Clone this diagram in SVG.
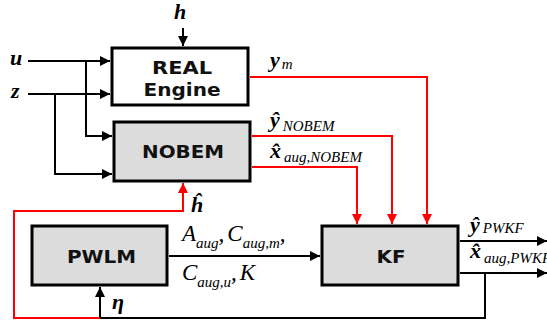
<svg xmlns="http://www.w3.org/2000/svg" width="547" height="325" viewBox="0 0 547 325">
<defs>
<style>
.box{stroke:#000;stroke-width:3}
.white{fill:#fff}
.gray{fill:#dcdcdc}
.bl{font-family:"DejaVu Sans",Verdana,sans-serif;font-weight:bold;font-size:17px;fill:#111}
.k{fill:none;stroke:#000;stroke-width:2}
.r{fill:none;stroke:#f00;stroke-width:2}
.m{font-family:"Liberation Serif","Times New Roman",serif;font-style:italic;font-weight:bold;font-size:22px;fill:#000}
.mn{font-family:"Liberation Serif","Times New Roman",serif;font-style:italic;font-size:23px;fill:#000}
.s{font-family:"Liberation Serif","Times New Roman",serif;font-style:italic;font-size:15px;fill:#000}
</style>
<marker id="ak" viewBox="0 0 10 10" refX="10" refY="5" markerWidth="10" markerHeight="10" markerUnits="userSpaceOnUse" orient="auto"><path d="M0,0 L10,5 L0,10 z" fill="#000"/></marker>
<marker id="ar" viewBox="0 0 10 10" refX="10" refY="5" markerWidth="10" markerHeight="10" markerUnits="userSpaceOnUse" orient="auto"><path d="M0,0 L10,5 L0,10 z" fill="#f00"/></marker>
</defs>
<rect width="547" height="325" fill="#fff"/>

<g id="connectors">
<path class="k" d="M183,28 V46" marker-end="url(#ak)"/>
<path class="k" d="M28,61 H110" marker-end="url(#ak)"/>
<path class="k" d="M86,61 V136 H112" marker-end="url(#ak)"/>
<path class="k" d="M28,94 H110" marker-end="url(#ak)"/>
<path class="k" d="M55,94 V174 H112" marker-end="url(#ak)"/>
<path class="r" d="M250,77 H427 V224" marker-end="url(#ar)"/>
<path class="r" d="M252,136 H392 V224" marker-end="url(#ar)"/>
<path class="r" d="M252,167 H357 V224" marker-end="url(#ar)"/>
<path class="k" d="M169,256 H320" marker-end="url(#ak)"/>
<path class="k" d="M460,241 H547" marker-end="url(#ak)"/>
<path class="k" d="M460,273 H547" marker-end="url(#ak)"/>
<path class="k" d="M485,273 V318 H100"/>
<path class="k" d="M100,318 V287" marker-end="url(#ak)"/>
<path class="r" d="M100,318 H14 V211 H183 V183" marker-end="url(#ar)"/>
</g>

<g id="real-engine">
<rect class="box white" x="112" y="48" width="136" height="57"/>
<text class="bl" x="182" y="74" text-anchor="middle" textLength="60" lengthAdjust="spacingAndGlyphs">REAL</text>
<text class="bl" x="182" y="96" text-anchor="middle" textLength="77" lengthAdjust="spacingAndGlyphs">Engine</text>
</g>
<g id="nobem">
<rect class="box gray" x="114" y="122" width="136" height="59"/>
<text class="bl" x="183" y="158" text-anchor="middle" textLength="82" lengthAdjust="spacingAndGlyphs">NOBEM</text>
</g>
<g id="pwlm">
<rect class="box gray" x="32" y="226" width="135" height="59"/>
<text class="bl" x="101.5" y="263" text-anchor="middle" textLength="69" lengthAdjust="spacingAndGlyphs">PWLM</text>
</g>
<g id="kf">
<rect class="box gray" x="322" y="226" width="136" height="59"/>
<text class="bl" x="391" y="263" text-anchor="middle" textLength="29" lengthAdjust="spacingAndGlyphs">KF</text>
</g>

<g id="labels">
<text class="m" x="174" y="19">h</text>
<text class="m" x="10" y="65">u</text>
<text class="m" x="11" y="98">z</text>
<text x="270" y="67"><tspan class="m">y</tspan><tspan class="s" dy="2" dx="2">m</tspan></text>
<text x="270" y="127"><tspan class="m">ŷ</tspan><tspan class="s" dy="4" dx="3">NOBEM</tspan></text>
<text x="270" y="158"><tspan class="m">x̂</tspan><tspan class="s" dy="4" dx="3">aug,NOBEM</tspan></text>
<text class="m" x="191" y="212">ĥ</text>
<text class="m" x="112" y="309">η</text>
<text x="470" y="232"><tspan class="m">ŷ</tspan><tspan class="s" dy="1" dx="3">PWKF</tspan></text>
<text x="470" y="258"><tspan class="m">x̂</tspan><tspan class="s" dy="5" dx="3">aug,PWKF</tspan></text>
<text x="182" y="241"><tspan class="mn">A</tspan><tspan class="s" dy="7">aug</tspan><tspan class="mn" dy="-7">,</tspan><tspan class="mn" dx="3">C</tspan><tspan class="s" dy="7">aug,m</tspan><tspan class="mn" dy="-7">,</tspan></text>
<text x="182" y="280"><tspan class="mn">C</tspan><tspan class="s" dy="7">aug,u</tspan><tspan class="mn" dy="-7">,</tspan><tspan class="mn" dx="3">K</tspan></text>
</g>
</svg>
